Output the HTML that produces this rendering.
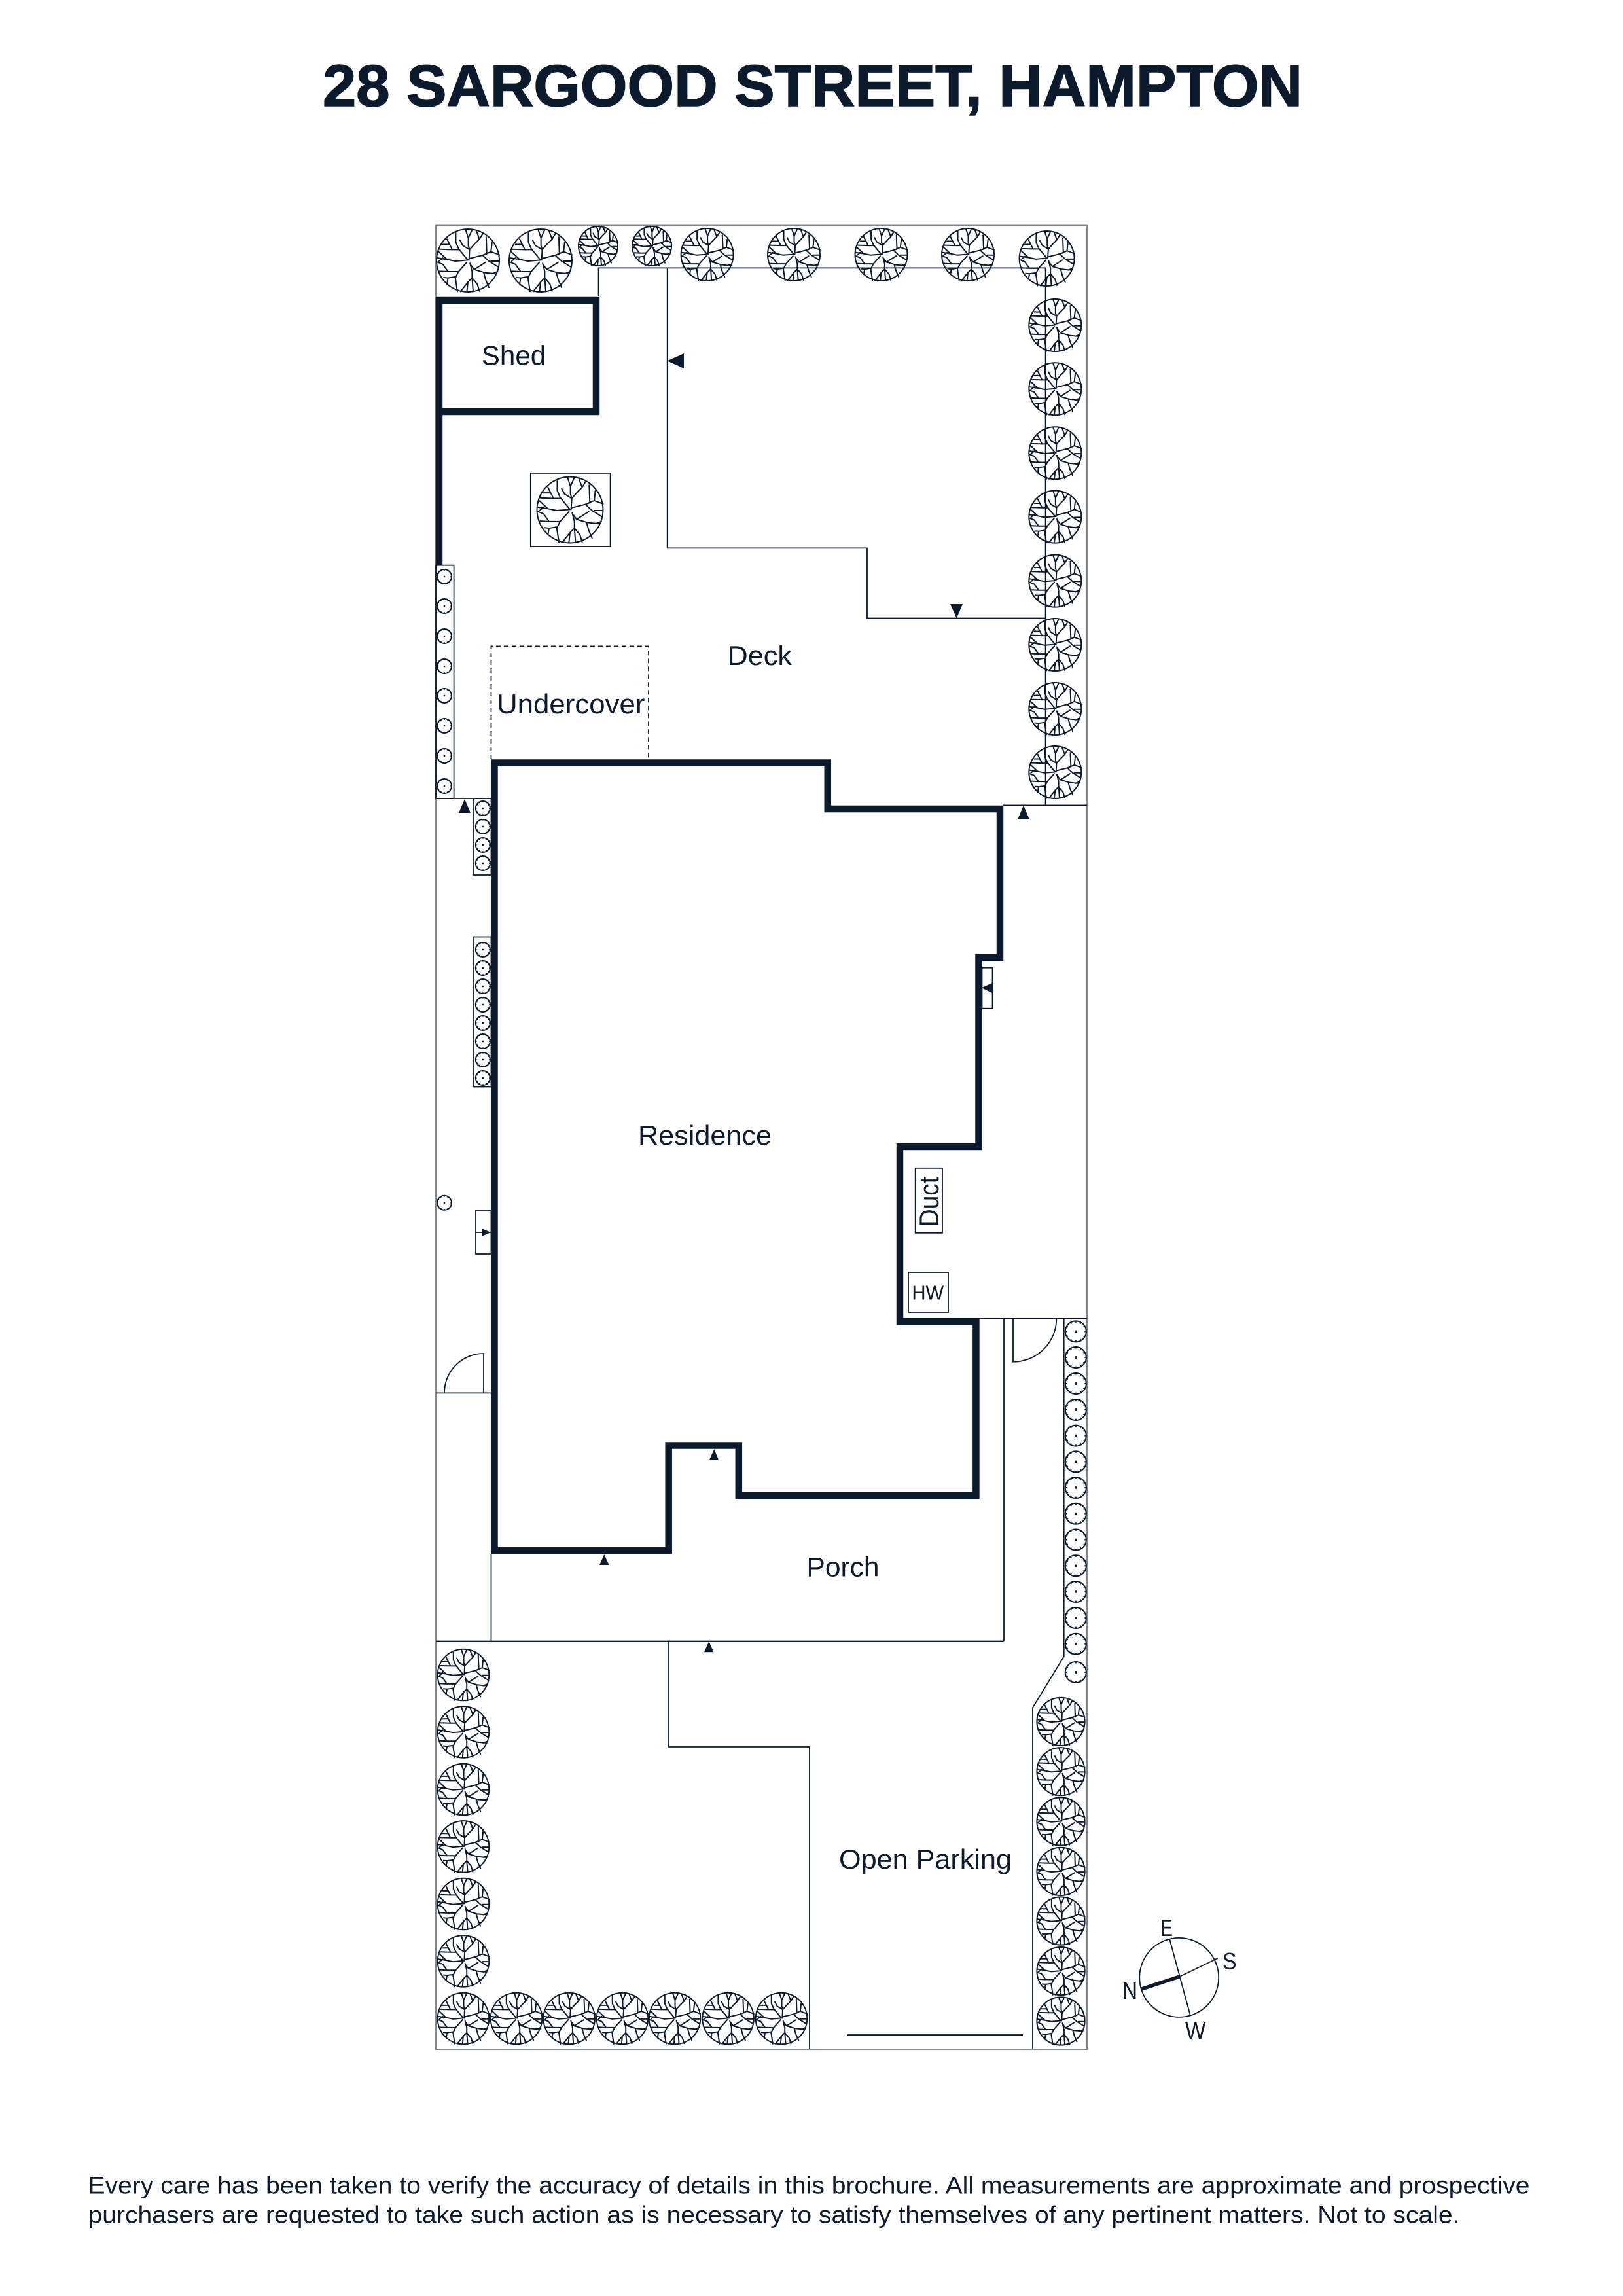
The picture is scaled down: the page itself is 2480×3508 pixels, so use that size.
<!DOCTYPE html>
<html><head><meta charset="utf-8"><style>
html,body{margin:0;padding:0;background:#fff}
svg{display:block}
text{font-family:"Liberation Sans",sans-serif;fill:#0c1a2d}
.v{vector-effect:non-scaling-stroke}
</style></head><body>
<svg xmlns="http://www.w3.org/2000/svg" width="2480" height="3508" viewBox="0 0 2480 3508">
<defs>
<g id="t" fill="none" stroke="#0c1a2d" stroke-width="2" stroke-linejoin="round" stroke-linecap="round">
<circle class="v" r="1"/>
<g transform="scale(.00667) translate(-270,-237)">
<path class="v" d="M275,235L278,185L272,165L272,130L258,88M272,130L290,90M278,185L245,165L232,140M278,185L300,160L325,135L340,110M325,135L310,95"/>
<path class="v" d="M270,235L245,205L225,180L212,150L212,105M225,185L195,185L135,183M195,185L170,135M182,160L150,160"/>
<path class="v" d="M268,235L210,240L170,232L130,195M170,232L125,225M150,225L132,240"/>
<path class="v" d="M275,228L300,222L340,212L380,195L420,210M340,212L360,205L357,125M380,195L385,150M340,212L370,240L415,268M380,240L420,240"/>
<path class="v" d="M285,260L300,280L355,245M300,280L350,295L400,300M345,295L355,330L370,365M385,300L412,290"/>
<path class="v" d="M280,250L290,290L290,320L270,340L265,385M290,320L315,350L325,383M290,320L295,385M270,340L235,385"/>
<path class="v" d="M265,245L225,290L210,320L220,385M225,290L175,290L135,288M175,290L150,255L125,245M210,315L175,320L155,318M175,320L170,350"/>
</g>
</g>
<g id="p" fill="none" stroke="#0c1a2d" stroke-width="2">
<circle class="v" r="1"/>
<circle r=".12" fill="#0c1a2d" stroke="none"/>
<path class="v" d="M0,-1V-.85M.5,-.866L.43,-.74M.866,-.5L.74,-.43M1,0H.85M.866,.5L.74,.43M.5,.866L.43,.74M0,1V.85M-.5,.866L-.43,.74M-.866,.5L-.74,.43M-1,0H-.85M-.866,-.5L-.74,-.43M-.5,-.866L-.43,-.74"/>
</g>
</defs>

<!-- Title -->
<text x="493" y="162" font-size="90" font-weight="700" textLength="1497" lengthAdjust="spacingAndGlyphs" stroke="#0c1a2d" stroke-width="1.6">28 SARGOOD STREET, HAMPTON</text>

<!-- Outer boundary -->
<rect x="666" y="344.5" width="995" height="2786.5" fill="none" stroke="#7f868e" stroke-width="2"/>

<!-- Thin lines -->
<g fill="none" stroke="#0c1a2d" stroke-width="1.8">
<path d="M914.6,453V409.4H1597.6V1230.4"/>
<path d="M1019.7,409.4V837.4H1325V944.5H1597.6"/>
<path d="M1533,1230.4H1661"/>
<path d="M1380,2014.4H1661"/>
<rect x="810.8" y="722.9" width="121.8" height="112" stroke="#0c1a2d"/>
<rect x="666" y="863.7" width="27.6" height="356.3"/>
<path d="M666,1220H750"/>
<rect x="724" y="1220" width="26.5" height="117"/>
<rect x="724" y="1431.5" width="26.5" height="229"/>
<rect x="727" y="1849" width="23.5" height="67"/>
<path d="M727,1883H750"/>
<rect x="1500.5" y="1478.7" width="16" height="62"/>
<rect x="1398.7" y="1784.8" width="41.3" height="99"/>
<rect x="1388" y="1944" width="61" height="61"/>
<path d="M666,2128.4H750"/>
<path d="M739,2128.4V2068A60,60 0 0 0 679,2128.4"/>
<path d="M1548,2014.4V2080.7A66,66 0 0 0 1614.3,2014.4"/>
<path d="M1534,2014.4V2507.8"/>
<path d="M750.5,2375V2507.8"/>
<path d="M666,2507.8H1534" stroke-width="2.4"/>
<path d="M1022,2507.8V2669H1237V3131"/>
<path d="M1625.7,2014.4V2531L1578,2609V3131"/>
</g>
<path d="M1295,3109.4H1563" stroke="#0c1a2d" stroke-width="2.6" fill="none"/>
<path d="M750.5,1160V987.4H991V1160" fill="none" stroke="#0c1a2d" stroke-width="1.8" stroke-dasharray="7 5"/>

<!-- Thick walls -->
<g fill="none" stroke="#0c1a2d" stroke-width="10.5" stroke-linejoin="miter">
<path d="M671,863.7V459H911V629H671"/>
<path d="M755.5,1165.5H1264.75V1236H1528V1463H1495.5V1752H1375V2019.5H1491.4V2285H1128.8V2208.5H1021.7V2369.3H755.5Z"/>
</g>

<!-- Arrows -->
<g fill="#0c1a2d">
<path d="M1019.7,551.4L1045,540V563Z"/>
<path d="M1452,923H1471L1461.7,944.5Z"/>
<path d="M701,1242H719L710,1221Z"/>
<path d="M1555,1252H1573L1564,1230.5Z"/>
<path d="M1500,1509.3L1516,1502V1517Z"/>
<path d="M750,1883L736,1877V1889Z"/>
<path d="M1084,2230.4H1098L1091.3,2214.3Z"/>
<path d="M916,2391H930.5L923.3,2375Z"/>
<path d="M1076,2524.3H1090.5L1083.3,2508Z"/>
</g>

<!-- Trees -->
<use href="#t" transform="translate(715,398) scale(48)"/>
<use href="#t" transform="translate(826,398) scale(48)"/>
<use href="#t" transform="translate(914,376) scale(30)"/>
<use href="#t" transform="translate(996,376) scale(30)"/>
<use href="#t" transform="translate(1080.6,389) scale(40)"/>
<use href="#t" transform="translate(1213,389) scale(40)"/>
<use href="#t" transform="translate(1346.5,389) scale(40)"/>
<use href="#t" transform="translate(1479,389) scale(40)"/>
<use href="#t" transform="translate(1599.6,395) scale(42)"/>
<use href="#t" transform="translate(871,779) scale(50.5)"/>
<use href="#t" transform="translate(1612.3,497) scale(40)"/>
<use href="#t" transform="translate(1612.3,594.3) scale(40)"/>
<use href="#t" transform="translate(1612.3,692.3) scale(40)"/>
<use href="#t" transform="translate(1612.3,789.6) scale(40)"/>
<use href="#t" transform="translate(1612.3,887.6) scale(40)"/>
<use href="#t" transform="translate(1612.3,985) scale(40)"/>
<use href="#t" transform="translate(1612.3,1083) scale(40)"/>
<use href="#t" transform="translate(1612.3,1180) scale(40)"/>
<use href="#t" transform="translate(708,2559) scale(39.3)"/>
<use href="#t" transform="translate(708,2646.4) scale(39.3)"/>
<use href="#t" transform="translate(708,2734) scale(39.3)"/>
<use href="#t" transform="translate(708,2821.4) scale(39.3)"/>
<use href="#t" transform="translate(708,2909) scale(39.3)"/>
<use href="#t" transform="translate(708,2996.4) scale(39.3)"/>
<use href="#t" transform="translate(708,3084) scale(39.3)"/>
<use href="#t" transform="translate(789,3084) scale(39.3)"/>
<use href="#t" transform="translate(869.7,3084) scale(39.3)"/>
<use href="#t" transform="translate(951,3084) scale(39.3)"/>
<use href="#t" transform="translate(1031,3084) scale(39.3)"/>
<use href="#t" transform="translate(1112.6,3084) scale(39.3)"/>
<use href="#t" transform="translate(1194,3084) scale(39.3)"/>
<use href="#t" transform="translate(1621,2630.4) scale(36.6)"/>
<use href="#t" transform="translate(1621,2706.7) scale(36.6)"/>
<use href="#t" transform="translate(1621,2783) scale(36.6)"/>
<use href="#t" transform="translate(1621,2859.4) scale(36.6)"/>
<use href="#t" transform="translate(1621,2935) scale(36.6)"/>
<use href="#t" transform="translate(1621,3011.6) scale(36.6)"/>
<use href="#t" transform="translate(1621,3088) scale(36.6)"/>

<!-- Small plants -->
<use href="#p" transform="translate(679,881) scale(11)"/>
<use href="#p" transform="translate(679,926) scale(11)"/>
<use href="#p" transform="translate(679,972) scale(11)"/>
<use href="#p" transform="translate(679,1018) scale(11)"/>
<use href="#p" transform="translate(679,1063) scale(11)"/>
<use href="#p" transform="translate(679,1109) scale(11)"/>
<use href="#p" transform="translate(679,1155) scale(11)"/>
<use href="#p" transform="translate(679,1201) scale(11)"/>
<use href="#p" transform="translate(679,1837.8) scale(11)"/>
<use href="#p" transform="translate(737.8,1235) scale(11)"/>
<use href="#p" transform="translate(737.8,1263) scale(11)"/>
<use href="#p" transform="translate(737.8,1291) scale(11)"/>
<use href="#p" transform="translate(737.8,1319) scale(11)"/>
<use href="#p" transform="translate(737.8,1451) scale(11)"/>
<use href="#p" transform="translate(737.8,1479) scale(11)"/>
<use href="#p" transform="translate(737.8,1507) scale(11)"/>
<use href="#p" transform="translate(737.8,1535) scale(11)"/>
<use href="#p" transform="translate(737.8,1563) scale(11)"/>
<use href="#p" transform="translate(737.8,1591) scale(11)"/>
<use href="#p" transform="translate(737.8,1619) scale(11)"/>
<use href="#p" transform="translate(737.8,1647) scale(11)"/>
<use href="#p" transform="translate(1643.8,2034.4) scale(16)"/>
<use href="#p" transform="translate(1643.8,2074) scale(16)"/>
<use href="#p" transform="translate(1643.8,2114) scale(16)"/>
<use href="#p" transform="translate(1643.8,2154) scale(16)"/>
<use href="#p" transform="translate(1643.8,2193.6) scale(16)"/>
<use href="#p" transform="translate(1643.8,2233.4) scale(16)"/>
<use href="#p" transform="translate(1643.8,2273) scale(16)"/>
<use href="#p" transform="translate(1643.8,2312.7) scale(16)"/>
<use href="#p" transform="translate(1643.8,2352.5) scale(16)"/>
<use href="#p" transform="translate(1643.8,2392.3) scale(16)"/>
<use href="#p" transform="translate(1643.8,2432) scale(16)"/>
<use href="#p" transform="translate(1643.8,2472) scale(16)"/>
<use href="#p" transform="translate(1643.8,2511.7) scale(16)"/>
<use href="#p" transform="translate(1643.8,2555) scale(16)"/>

<!-- Compass -->
<g fill="none" stroke="#0c1a2d">
<circle cx="1801.7" cy="3021.4" r="60.5" stroke-width="1.8"/>
<path d="M1787,2962L1819,3080" stroke-width="1.8"/>
<path d="M1860.6,2992L1802.5,3020" stroke-width="1.8"/>
<path d="M1802.5,3020L1744.5,3039" stroke-width="5.5"/>
</g>
<text x="1773" y="2958" font-size="36" textLength="19" lengthAdjust="spacingAndGlyphs">E</text>
<text x="1868" y="3009" font-size="36" textLength="21.5" lengthAdjust="spacingAndGlyphs">S</text>
<text x="1715" y="3054" font-size="36" textLength="23" lengthAdjust="spacingAndGlyphs">N</text>
<text x="1811" y="3115" font-size="36" textLength="31.5" lengthAdjust="spacingAndGlyphs">W</text>

<!-- Labels -->
<text x="735.8" y="557.6" font-size="42" textLength="98.4" lengthAdjust="spacingAndGlyphs">Shed</text>
<text x="1111.5" y="1016" font-size="42" textLength="98.5" lengthAdjust="spacingAndGlyphs">Deck</text>
<text x="759" y="1090" font-size="42" textLength="226.5" lengthAdjust="spacingAndGlyphs">Undercover</text>
<text x="975" y="1749" font-size="42" textLength="204" lengthAdjust="spacingAndGlyphs">Residence</text>
<text x="1434" y="1874" font-size="42" textLength="76" lengthAdjust="spacingAndGlyphs" transform="rotate(-90 1434 1874)">Duct</text>
<text x="1393.4" y="1985.7" font-size="31" textLength="48.8" lengthAdjust="spacingAndGlyphs">HW</text>
<text x="1232.5" y="2408.7" font-size="42" textLength="111" lengthAdjust="spacingAndGlyphs">Porch</text>
<text x="1282" y="2855" font-size="42" textLength="264" lengthAdjust="spacingAndGlyphs">Open Parking</text>

<!-- Footer -->
<text x="134.5" y="3351.7" font-size="37" textLength="2203" lengthAdjust="spacingAndGlyphs">Every care has been taken to verify the accuracy of details in this brochure. All measurements are approximate and prospective</text>
<text x="134.5" y="3396.7" font-size="37" textLength="2096" lengthAdjust="spacingAndGlyphs">purchasers are requested to take such action as is necessary to satisfy themselves of any pertinent matters. Not to scale.</text>
</svg>
</body></html>
